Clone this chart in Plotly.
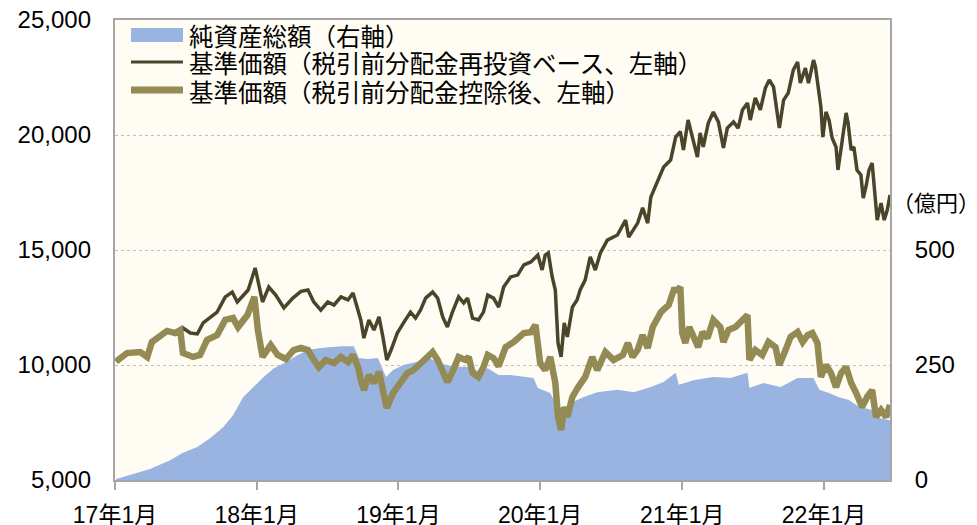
import plotly.graph_objects as go

# ---------------- data ----------------
nav_dates = [
    "2017-01-04","2017-02-01","2017-03-07","2017-03-25","2017-04-06","2017-04-27","2017-05-15","2017-06-05",
    "2017-06-18","2017-06-25","2017-07-14","2017-08-01","2017-08-16","2017-09-03","2017-09-21","2017-10-12",
    "2017-10-30","2017-11-12","2017-11-27","2017-12-10","2017-12-28","2018-01-16","2018-02-01","2018-02-19",
    "2018-03-12","2018-04-04","2018-04-25","2018-05-13","2018-05-28","2018-06-15","2018-07-03","2018-07-19",
    "2018-08-06","2018-08-24","2018-09-06","2018-09-13","2018-09-26","2018-10-04","2018-10-17","2018-10-30",
    "2018-11-12","2018-11-22","2018-12-02","2018-12-13","2018-12-29","2019-01-14","2019-02-01","2019-02-14",
    "2019-02-27","2019-03-12","2019-03-30","2019-04-12","2019-04-25","2019-05-07","2019-05-20","2019-06-05",
    "2019-06-18","2019-06-28","2019-07-11","2019-07-26","2019-08-08","2019-08-19","2019-09-03","2019-09-16",
    "2019-09-29","2019-10-17","2019-11-04","2019-11-20","2019-12-08","2019-12-26","2020-01-06","2020-01-14",
    "2020-01-22","2020-02-01","2020-02-09","2020-02-16","2020-02-24","2020-03-03","2020-03-11","2020-03-24",
    "2020-04-05","2020-04-13","2020-04-26","2020-05-09","2020-05-22","2020-06-04","2020-06-22","2020-07-18",
    "2020-08-08","2020-08-16","2020-08-29","2020-09-08","2020-09-21","2020-10-04","2020-10-12","2020-10-30",
    "2020-11-14","2020-12-02","2020-12-15","2020-12-27","2021-01-04","2021-01-16","2021-01-29","2021-02-09",
    "2021-02-16","2021-02-24","2021-03-09","2021-03-22","2021-04-04","2021-04-17","2021-04-27","2021-05-13",
    "2021-05-25","2021-06-05","2021-06-18","2021-06-25","2021-07-08","2021-07-21","2021-08-03","2021-08-13",
    "2021-08-24","2021-09-03","2021-09-08","2021-09-19","2021-10-01","2021-10-14","2021-10-25","2021-11-01",
    "2021-11-14","2021-11-22","2021-12-05","2021-12-10","2021-12-18","2021-12-24","2021-12-29","2022-01-06",
    "2022-01-14","2022-01-22","2022-02-01","2022-02-06","2022-02-16","2022-02-27","2022-03-04","2022-03-12",
    "2022-03-19","2022-03-27","2022-04-06","2022-04-12","2022-04-19","2022-04-27","2022-05-05","2022-05-10",
    "2022-05-18","2022-05-28","2022-06-05","2022-06-13","2022-06-20",
]
nav_reinvested = [
    10150,10520,10565,10350,11000,11220,11480,11390,
    11520,11610,11390,11350,11830,12090,12300,12960,
    13170,12740,13040,13260,14220,12740,13390,13040,
    12480,12910,13200,13260,12740,12390,12740,12610,
    12960,12830,13130,12700,11960,11170,11960,11520,
    12090,11220,10220,10650,11390,11830,12300,12040,
    12390,12910,13170,12910,12090,11650,12300,12960,
    12700,12910,12040,11960,12300,13040,12910,12520,
    13390,13830,13910,14350,14480,14780,14130,14780,
    14870,13830,13260,10960,10350,11830,11220,12520,
    12830,13260,13700,14700,14130,14870,15430,15650,
    16300,15560,15870,16170,16830,16170,17300,18040,
    18610,18910,19910,20150,19350,20650,19780,19040,
    20090,19480,20520,21000,20570,19440,20300,20570,
    20300,21090,21390,20650,21610,21090,22040,22390,
    22090,20960,20300,21520,21830,22830,23170,22260,
    22910,22260,23260,22960,22040,21220,19910,21000,
    20650,19870,19480,18480,19650,20960,20520,19350,
    19480,18480,18260,17260,17740,18480,18780,17910,
    16300,17040,16300,16740,17390,
]

dist_dates = [
    "2017-01-04","2017-02-01","2017-03-07","2017-03-25","2017-04-06","2017-04-27","2017-05-15","2017-06-05",
    "2017-06-18","2017-06-25","2017-07-21","2017-08-08","2017-08-26","2017-09-21","2017-10-12","2017-11-01",
    "2017-11-14","2017-12-08","2017-12-26","2018-01-04","2018-01-16","2018-02-06","2018-02-24","2018-03-17",
    "2018-04-06","2018-04-25","2018-05-13","2018-05-28","2018-06-10","2018-06-28","2018-07-19","2018-08-06",
    "2018-08-24","2018-09-06","2018-09-19","2018-09-26","2018-10-04","2018-10-17","2018-10-30","2018-11-12",
    "2018-11-22","2018-12-02","2018-12-18","2019-01-06","2019-01-24","2019-02-09","2019-02-27","2019-03-17",
    "2019-03-30","2019-04-12","2019-04-25","2019-05-07","2019-05-20","2019-06-05","2019-06-23","2019-07-01",
    "2019-07-11","2019-07-26","2019-08-08","2019-08-19","2019-09-03","2019-09-16","2019-10-04","2019-10-25",
    "2019-11-20","2019-12-08","2019-12-20","2020-01-01","2020-01-14","2020-01-27","2020-02-09","2020-02-16",
    "2020-02-24","2020-03-03","2020-03-11","2020-03-24","2020-04-08","2020-04-26","2020-05-14","2020-05-27",
    "2020-06-17","2020-07-08","2020-08-01","2020-08-14","2020-08-26","2020-09-08","2020-09-21","2020-10-04",
    "2020-10-17","2020-11-07","2020-11-27","2020-12-10","2020-12-20","2020-12-27","2021-01-01","2021-01-09",
    "2021-01-19","2021-01-29","2021-02-11","2021-02-22","2021-03-07","2021-03-22","2021-04-09","2021-04-17",
    "2021-04-30","2021-05-18","2021-05-31","2021-06-18","2021-06-23","2021-07-08","2021-07-26","2021-08-11",
    "2021-08-29","2021-09-08","2021-09-24","2021-10-07","2021-10-25","2021-11-07","2021-11-20","2021-12-02",
    "2021-12-15","2021-12-24","2022-01-06","2022-01-19","2022-02-01","2022-02-14","2022-02-27","2022-03-12",
    "2022-03-25","2022-04-09","2022-04-22","2022-05-05","2022-05-15","2022-05-28","2022-06-10","2022-06-20",
]
nav_after_dist = [
    10150,10520,10565,10350,11000,11220,11480,11390,
    11520,10520,10350,10435,11090,11300,11960,12040,
    11650,12170,12960,11520,10350,10870,10435,10260,
    10650,10740,10650,10220,9910,10220,10090,10350,
    10130,10435,9910,9350,8910,9565,9220,9700,
    8910,8130,8780,9220,9650,9780,10090,10435,
    10565,10220,9650,9260,9700,10350,10220,10350,
    9650,9480,9910,10435,10300,9950,10780,11000,
    11390,11430,11740,10090,9780,10350,9220,7740,
    7170,8170,7740,8610,9040,9480,10350,9780,
    10565,10220,10435,10960,10350,10650,11300,10740,
    11650,12300,12610,13260,13260,13390,11390,10960,
    11650,11220,10780,11430,11170,11960,11650,11000,
    11520,11650,11870,12170,10220,10650,10435,11000,
    10780,10000,10650,11220,11430,11000,11300,11390,
    10960,9480,10000,9650,9040,9650,9910,9220,
    8780,8170,8610,8910,7740,8040,7740,8260,
]

aum_dates = [
    "2017-01-04","2017-02-09","2017-04-01","2017-05-23","2017-06-25","2017-08-01","2017-09-03","2017-10-07",
    "2017-11-01","2017-11-27","2017-12-23","2018-01-04","2018-01-19","2018-02-14","2018-03-12","2018-04-17",
    "2018-05-15","2018-06-15","2018-08-06","2018-09-08","2018-09-21","2018-10-14","2018-11-09","2018-11-30",
    "2018-12-18","2019-01-14","2019-02-19","2019-03-17","2019-04-19","2019-05-23","2019-06-28","2019-08-01",
    "2019-08-19","2019-09-16","2019-10-17","2019-12-15","2019-12-26","2020-01-27","2020-02-14","2020-02-27",
    "2020-03-18","2020-04-21","2020-05-27","2020-07-18","2020-08-29","2020-10-12","2020-11-14","2020-12-15",
    "2020-12-23","2021-01-16","2021-01-29","2021-03-22","2021-05-05","2021-06-18","2021-06-23","2021-07-29",
    "2021-09-11","2021-10-25","2021-12-05","2021-12-20","2022-01-14","2022-02-09","2022-03-06","2022-04-01",
    "2022-05-05","2022-05-23","2022-06-20",
]
net_assets = [
    2,11,24,43,59,72,91,115,
    141,180,202,211,224,243,254,272,
    283,287,291,291,265,263,265,224,
    239,250,257,267,254,246,246,235,
    243,228,228,222,200,189,159,130,
    167,180,191,196,191,202,213,233,
    207,213,217,224,222,233,200,211,
    202,222,222,196,189,180,174,159,
    152,135,130,
]

x_tick_vals = ["2017-01-01","2018-01-01","2019-01-01","2020-01-01","2021-01-01","2022-01-01"]
x_tick_text = ["17年1月","18年1月","19年1月","20年1月","21年1月","22年1月"]
left_tick_vals = [5000, 10000, 15000, 20000, 25000]
right_tick_vals = [0, 250, 500, 750, 1000]
right_tick_text = ["0", "250", "500", "", ""]

legend_labels = ["純資産総額（右軸）",
                 "基準価額（税引前分配金再投資ベース、左軸）",
                 "基準価額（税引前分配金控除後、左軸）"]

# ---------------- style ----------------
C_AREA = "#99B4E0"
C_DARK = "#4A442A"
C_OLIVE = "#948A54"
C_BORDER = "#A6A6A6"
FONT = "Liberation Sans, Arial, Noto Sans CJK JP, sans-serif"
JFONT = "Noto Sans CJK JP, sans-serif"

# page body has an 8px margin, so the figure is placed 8px in from the window corner
OFF = 8
W, H = 977 - OFF, 525 - OFF
L, R, T, B = 115 - OFF, 87, 20 - OFF, 45
pw, ph = W - L - R, H - T - B

def px(xs):  # window pixel x -> paper
    return (xs - OFF - L) / pw

def py(ys):  # window pixel y -> paper
    return (H - B - (ys - OFF)) / ph

fig = go.Figure()
fig.add_trace(go.Scatter(x=aum_dates, y=net_assets, mode="lines", fill="tozeroy",
                         line=dict(width=0, color=C_AREA), fillcolor=C_AREA,
                         yaxis="y", showlegend=False))
fig.add_trace(go.Scatter(x=nav_dates, y=nav_reinvested, mode="lines",
                         line=dict(width=3.5, color=C_DARK), yaxis="y2", showlegend=False))
fig.add_trace(go.Scatter(x=dist_dates, y=nav_after_dist, mode="lines",
                         line=dict(width=6.5, color=C_OLIVE), yaxis="y2", showlegend=False))

fig.update_layout(
    width=W, height=H,
    margin=dict(l=L, r=R, t=T, b=B, autoexpand=False),
    paper_bgcolor="white",
    plot_bgcolor="#FFFCF3",
    font=dict(family=FONT, color="black"),
    showlegend=False,
    xaxis=dict(type="date", range=["2017-01-01", "2022-06-20"],
               tickvals=x_tick_vals, ticktext=x_tick_text,
               ticks="outside", ticklen=8, tickwidth=1.5, tickcolor=C_BORDER,
               showline=True, linecolor=C_BORDER, linewidth=2, mirror=True,
               showgrid=False, zeroline=False, automargin=False,
               ticklabelstandoff=5, ticklabeloverflow="allow",
               tickfont=dict(size=23, family=FONT)),
    yaxis=dict(range=[0, 1000], side="right", tickvals=right_tick_vals, ticktext=right_tick_text,
               showgrid=True, gridcolor="#BFBFBF", griddash="dot", gridwidth=1,
               showline=True, linecolor=C_BORDER, linewidth=2, mirror=True,
               ticks="", ticklabelstandoff=18, zeroline=False, automargin=False,
               ticklabeloverflow="allow",
               tickfont=dict(size=24, family=FONT)),
    yaxis2=dict(range=[5000, 25000], side="left", overlaying="y",
                tickvals=left_tick_vals, tickformat=",",
                showgrid=False, zeroline=False, showline=False,
                ticks="", ticklabelstandoff=23, automargin=False,
                ticklabeloverflow="allow",
                tickfont=dict(size=24, family=FONT)),
)

# manual legend
fig.add_shape(type="rect", xref="paper", yref="paper",
              x0=px(131), x1=px(183), y0=py(42), y1=py(28),
              fillcolor=C_AREA, line=dict(width=0))
fig.add_shape(type="line", xref="paper", yref="paper",
              x0=px(131), x1=px(183), y0=py(62), y1=py(62),
              line=dict(color=C_DARK, width=3))
fig.add_shape(type="line", xref="paper", yref="paper",
              x0=px(131), x1=px(183), y0=py(90), y1=py(90),
              line=dict(color=C_OLIVE, width=7))
for lab, yy in zip(legend_labels, [35, 62, 91]):
    fig.add_annotation(text=lab, xref="paper", yref="paper", x=px(187), y=py(yy),
                       xanchor="left", yanchor="middle", showarrow=False,
                       font=dict(size=24.5, family=JFONT, color="black"))

# right axis unit label
fig.add_annotation(text="（億円）", xref="paper", yref="paper", x=px(890), y=py(201),
                   xanchor="left", yanchor="middle", showarrow=False,
                   font=dict(size=22, family=JFONT, color="black"))

fig.write_html("out.html")
